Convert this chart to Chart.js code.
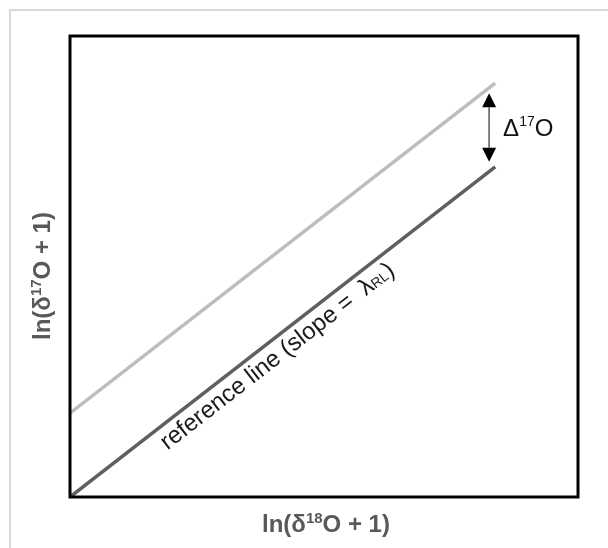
<!DOCTYPE html>
<html><head><meta charset="utf-8">
<script src="https://cdn.jsdelivr.net/npm/chart.js@4/dist/chart.umd.min.js"></script>
<style>html,body{margin:0;padding:0;background:#fff;}canvas{display:block;}</style>
</head><body>
<canvas id="c" width="608" height="548"></canvas>
<script>
// ---- data (arbitrary units, axes 0..100) ----
const xValues = [0, 83.7];
const referenceLine = [0, 71.6];
const offsetLine = [18.2, 89.8];
const arrowX = 82.5;
const arrowY = [72.7, 87.6];
const labelStartX = 16.4;
const xTitleParts = ["ln(δ", "18", "O + 1)"];
const yTitleParts = ["ln(δ", "17", "O + 1)"];
const deltaParts = ["Δ", "17", "O"];
const refLabelParts = ["reference line (slope =  λ", "RL", ")"];

const FONT = '"Liberation Sans", Arial, sans-serif';

function drawRich(ctx, segs, x, y, align) {
  let total = 0;
  segs.forEach(s => { ctx.font = s.font; s.w = ctx.measureText(s.t).width; total += s.w; });
  let cx = align === 'center' ? x - total / 2 : x;
  ctx.textAlign = 'left';
  ctx.textBaseline = 'alphabetic';
  segs.forEach(s => { ctx.font = s.font; ctx.fillText(s.t, cx, y + (s.dy || 0)); cx += s.w; });
}

const overlay = {
  id: 'overlay',
  afterDraw(chart) {
    const ctx = chart.ctx, xs = chart.scales.x, ys = chart.scales.y, a = chart.chartArea;
    ctx.save();
    // outer light frame
    ctx.strokeStyle = '#d9d9d9'; ctx.lineWidth = 2;
    ctx.beginPath(); ctx.moveTo(10, 548); ctx.lineTo(10, 10); ctx.lineTo(608, 10); ctx.stroke();
    // plot box
    ctx.strokeStyle = '#000'; ctx.lineWidth = 3;
    ctx.strokeRect(a.left, a.top, a.right - a.left, a.bottom - a.top);

    // arrow
    const ax = xs.getPixelForValue(arrowX);
    const yb = ys.getPixelForValue(arrowY[0]), yt = ys.getPixelForValue(arrowY[1]);
    const hh = 14, hw = 7;
    ctx.strokeStyle = '#555'; ctx.lineWidth = 1.5;
    ctx.beginPath(); ctx.moveTo(ax, yt + hh); ctx.lineTo(ax, yb - hh); ctx.stroke();
    ctx.fillStyle = '#000';
    ctx.beginPath(); ctx.moveTo(ax, yt); ctx.lineTo(ax - hw, yt + hh); ctx.lineTo(ax + hw, yt + hh); ctx.closePath(); ctx.fill();
    ctx.beginPath(); ctx.moveTo(ax, yb); ctx.lineTo(ax - hw, yb - hh); ctx.lineTo(ax + hw, yb - hh); ctx.closePath(); ctx.fill();

    // Δ17O label
    ctx.fillStyle = '#111';
    drawRich(ctx, [
      {t: deltaParts[0], font: '24px ' + FONT},
      {t: deltaParts[1], font: '14px ' + FONT, dy: -10},
      {t: deltaParts[2], font: '24px ' + FONT}
    ], ax + 14, (yt + yb) / 2 + 8, 'left');

    // axis titles
    ctx.fillStyle = '#595959';
    const tseg = p => [
      {t: p[0], font: 'bold 24px ' + FONT},
      {t: p[1], font: 'bold 15px ' + FONT, dy: -9},
      {t: p[2], font: 'bold 24px ' + FONT}
    ];
    drawRich(ctx, tseg(xTitleParts), (a.left + a.right) / 2 + 2, 532, 'center');
    ctx.save();
    ctx.translate(50, 276);
    ctx.rotate(-Math.PI / 2);
    drawRich(ctx, tseg(yTitleParts), 0, 0, 'center');
    ctx.restore();

    // reference line label
    const p0x = xs.getPixelForValue(xValues[0]), p0y = ys.getPixelForValue(referenceLine[0]);
    const p1x = xs.getPixelForValue(xValues[1]), p1y = ys.getPixelForValue(referenceLine[1]);
    const ang = Math.atan2(p1y - p0y, p1x - p0x);
    const t = (labelStartX - xValues[0]) / (xValues[1] - xValues[0]);
    const fx = p0x + t * (p1x - p0x), fy = p0y + t * (p1y - p0y);
    const off = 23;
    const nx = -Math.sin(ang), ny = Math.cos(ang);
    ctx.save();
    ctx.translate(fx + nx * off, fy + ny * off);
    ctx.rotate(ang);
    ctx.fillStyle = '#1a1a1a';
    drawRich(ctx, [
      {t: refLabelParts[0], font: '24px ' + FONT},
      {t: refLabelParts[1], font: '14px ' + FONT},
      {t: refLabelParts[2], font: '24px ' + FONT}
    ], 0, 0, 'left');
    ctx.restore();
    ctx.restore();
  }
};

new Chart(document.getElementById('c'), {
  type: 'line',
  data: {
    datasets: [
      { data: xValues.map((x, i) => ({x, y: offsetLine[i]})), borderColor: '#bdbdbd', borderWidth: 3.5, pointRadius: 0 },
      { data: xValues.map((x, i) => ({x, y: referenceLine[i]})), borderColor: '#5f5f5f', borderWidth: 3.5, pointRadius: 0 }
    ]
  },
  options: {
    responsive: false,
    animation: false,
    layout: { padding: { left: 70, right: 30, top: 36, bottom: 51 } },
    plugins: { legend: { display: false }, tooltip: { enabled: false } },
    scales: {
      x: { type: 'linear', min: 0, max: 100, display: false },
      y: { type: 'linear', min: 0, max: 100, display: false }
    }
  },
  plugins: [overlay]
});
</script>
</body></html>
